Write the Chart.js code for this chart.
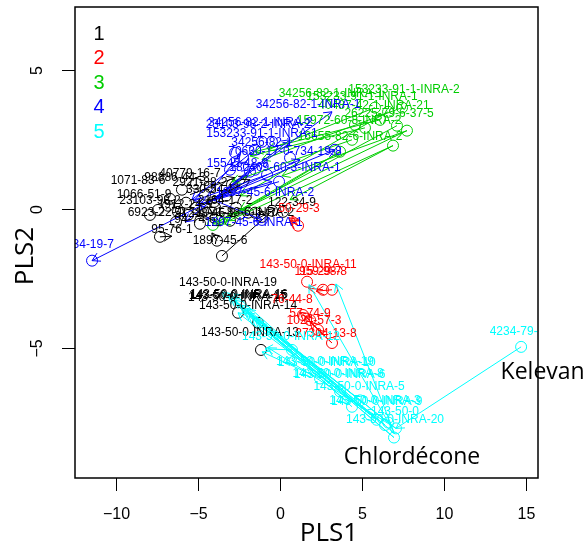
<!DOCTYPE html>
<html>
<head>
<meta charset="utf-8">
<script src="https://cdn.jsdelivr.net/npm/chart.js@4.4.0/dist/chart.umd.min.js"></script>
<style>
  html, body { margin: 0; padding: 0; background: #fff; }
</style>
</head>
<body>
<canvas id="plsChart" width="587" height="544"></canvas>
<script>
// Groups and colours (R palette: black, red, green3, blue, cyan)
const groupNames = ['1', '2', '3', '4', '5'];
const groupColors = ['#000000', '#FF0000', '#00CD00', '#0000FF', '#00FFFF'];

// Axis ticks
const xTicks = [-10, -5, 0, 5, 10, 15];
const yTicks = [-5, 0, 5];

// Circles (PLS1, PLS2, group index)
const ptX = [
  // group 1
  -7.32, -3.84, -3.54, -7.93, -7.44, -6.83, -6.22, -5.73, -5.12, -4.51, -4.02, -5.98, -5.12,
  -4.27, -3.29, -2.68, -1.95, -0.49, 0.18, -6.34, -4.88, -3.05, -1.10, -2.56, -1.34, -1.16,
  -5.61, -3.96, -3.35, -2.44, -6.71, -4.57, -2.93, -1.52,
  // group 2
  1.10, 1.65, 2.62, 3.17, 1.40, 1.83, 2.32, 3.17,
  // group 3
  7.74, 7.13, 6.89, 3.66, 4.39, 5.18, 6.10, 6.59, 7.44, 5.79, -4.09, 4.57,
  // group 4
  -11.46, -1.10, -0.79, -1.52, -0.06, -2.74, -2.26, -1.52, -1.10, -0.49, -1.83, 3.35, 0.61, -3.05,
  // group 5
  14.70, 6.95, 7.07, 6.40, 5.49, 4.39, 3.66, 0.73, 2.44, 4.88, 5.90, 6.60
];
const ptY = [
  -1.00, -1.14, -1.69, -0.21, -0.03, 0.12, -0.10, 0.23, 0.05, -0.13, 0.26, 0.70, 0.91,
  0.80, 0.48, 0.05, -0.13, -0.06, -0.10, -0.46, -0.53, -0.42, -0.28, -3.74, -4.10, -5.08,
  -0.21, 0.05, -0.10, -0.17, 0.37, 0.52, 0.88, -0.13,
  -0.60, -2.62, -2.91, -2.91, -3.82, -4.00, -4.36, -4.83,
  2.83, 3.01, 2.29, 2.07, 2.50, 2.93, 3.22, 3.51, 3.66, 3.66, -0.57, 3.04,
  -1.86, -0.39, 1.24, 1.42, 0.99, 2.03, 1.88, 2.14, 2.43, 2.43, 1.35, 2.14, 1.85, 1.42,
  -4.97, -8.24, -7.91, -7.79, -7.42, -7.13, -6.58, -5.08, -6.11, -6.90, -7.60, -7.70
];
const ptGrp = [
  0, 0, 0, 0, 0, 0, 0, 0, 0, 0, 0, 0, 0, 0, 0, 0, 0, 0, 0, 0, 0, 0, 0, 0, 0, 0,
  0, 0, 0, 0, 0, 0, 0, 0,
  1, 1, 1, 1, 1, 1, 1, 1,
  2, 2, 2, 2, 2, 2, 2, 2, 2, 2, 2, 2,
  3, 3, 3, 3, 3, 3, 3, 3, 3, 3, 3, 3, 3, 3,
  4, 4, 4, 4, 4, 4, 4, 4, 4, 4, 4, 4
];

// Arrows: from (arX0, arY0) to (arX1, arY1), head at the end
const arX0 = [
  // group 1
  -3.54, -3.84, -7.32, -4.88, -5.49, -4.51, -4.09, -4.50, -5.50,
  // group 2
  1.10, 1.10, 1.10, 3.17, 3.17, 3.17, 2.62, 3.17, 1.83,
  // group 3
  7.74, 7.13, 6.89, 3.66, 5.18, 6.10, 4.39, 7.44, 6.59, 5.79, 7.74, 6.89, 3.66,
  // group 4
  -4.09, -4.09, -4.09, -4.09, -4.09, -4.09, -4.09, -4.09, -4.09, -4.88, -0.79, -0.06, -1.52,
  // group 5
  14.70, 6.95, 7.07, 6.40, 5.49, 4.39, 3.66, 6.95, 6.40, 0.73, 2.44, 4.88, 6.95, 6.95, 7.07,
  6.60, 5.90, 7.00, 4.00, 5.00, 3.00
];
const arY0 = [
  -1.69, -1.14, -1.00, 0.15, 0.52, -0.13, 0.34, 0.20, 0.10,
  -0.60, -0.60, -0.60, -4.83, -4.83, -4.83, -2.91, -2.91, -4.00,
  2.83, 3.01, 2.29, 2.07, 2.93, 3.22, 2.50, 3.66, 3.51, 3.66, 2.83, 2.29, 2.07,
  0.34, 0.34, 0.34, 0.34, 0.34, 0.34, 0.34, 0.34, 0.34, 0.15, 1.24, 0.99, 2.14,
  -4.97, -8.24, -7.91, -7.79, -7.42, -7.13, -6.58, -8.24, -7.79, -5.08, -6.11, -6.90, -8.05, -8.05, -7.91,
  -7.70, -7.60, -8.10, -6.90, -7.20, -6.30
];
const arX1 = [
  -0.30, -4.15, -6.60, -2.44, -2.74, -0.91, -1.83, -2.00, -3.60,
  0.55, 0.61, 0.73, 1.83, 1.52, 2.32, 1.71, 2.20, 1.22,
  -4.09, -3.78, -3.54, -3.29, -1.83, -1.52, -2.93, -1.10, -2.44, -0.73, 0.12, 0.61, -2.44,
  -11.46, 3.17, 3.35, 1.22, -0.49, -1.10, -5.79, -1.83, 0.61, -2.44, -5.24, -5.06, -5.37,
  7.07, -3.54, -3.17, -2.74, -2.44, -2.07, -1.71, -1.34, -2.56, -0.91, -1.10, -2.20, 3.41, 1.77, -0.73,
  -3.00, -2.30, -2.00, -1.90, -2.80, -1.50
];
const arY1 = [
  0.03, -0.86, -0.98, 0.86, 1.13, -0.20, 1.06, 1.20, -0.60,
  -0.31, -0.42, -0.24, -4.08, -3.86, -4.36, -2.85, -2.96, -3.72,
  -0.53, -0.46, -0.53, -0.42, 1.92, 2.07, 0.99, 1.78, 0.48, 2.14, 1.20, 0.34, -0.03,
  -1.86, 3.51, 2.14, 1.78, 0.99, -0.39, -0.46, 1.42, 2.50, 1.97, 0.30, 0.15, 0.34,
  -7.91, -2.99, -3.14, -3.29, -3.46, -3.71, -3.92, -4.10, -3.74, -5.04, -5.15, -3.64, -2.70, -2.73, -5.00,
  -3.20, -3.55, -3.60, -3.85, -3.05, -4.00
];
const arGrp = [
  0, 0, 0, 0, 0, 0, 0, 0, 0,
  1, 1, 1, 1, 1, 1, 1, 1, 1,
  2, 2, 2, 2, 2, 2, 2, 2, 2, 2, 2, 2, 2,
  3, 3, 3, 3, 3, 3, 3, 3, 3, 3, 3, 3, 3,
  4, 4, 4, 4, 4, 4, 4, 4, 4, 4, 4, 4, 4, 4, 4,
  4, 4, 4, 4, 4, 4
];

// Compound labels (centre positions in PLS units)
const labText = [
  // group 1
  '40779-16-7', '1071-83-6', '98886-44-3', '1066-51-9', '23103-98-2', '6923-22-4', '95-76-1',
  '1897-45-6', '2921-88-2', '330-54-1', '1912-24-9', '51218-45-2', '2164-17-2', '94-74-6',
  '1071-83-6-INRA-2', '122-34-9', '143-50-0-INRA-19', '143-50-0-INRA-15', '143-50-0-INRA-17',
  '143-50-0-INRA-16', '143-50-0-INRA-14', '143-50-0-INRA-13',
  // group 2
  '50-29-3', '143-50-0-INRA-11', '115-29-7', '959-98-8', '76-44-8', '57-74-9', '1024-57-3', '27304-13-8',
  // group 3
  '153233-91-1-INRA-2', '34256-82-1-INRA-1', '153233-91-1-INRA-1', '40487-42-1-INRA-21',
  '26225-79-6-37-5', '15972-60-8-INRA-2', '16655-82-6-INRA-2',
  // group 4
  '34256-82-1-INRA-1', '23103-98-2-INRA-2', '34256-82-1-INRA-2', '153233-91-1-INRA-1', '34256-82-1',
  '70630-17-0-734-19-8', '15545-48-9', '180409-60-3-INRA-1', '1897-45-6-INRA-2', '31334-19-7',
  '1897-45-6-INRA-1',
  // group 5
  '4234-79-1', '143-50-0-INRA-19', '143-50-0-INRA-10', '143-50-0-INRA-8', '143-50-0-INRA-6',
  '143-50-0-INRA-5', '143-50-0-INRA-3', '143-50-0-INRA-9', '143-50-0', '143-50-0-INRA-20',
  '143-50-0-INRA-12'
];
const labX = [
  -5.49, -8.66, -6.40, -8.29, -7.93, -7.62, -6.59, -3.66, -4.88, -4.27, -5.79, -4.57, -3.35, -5.18,
  -2.13, 0.73, -3.17, -2.56, -2.62, -2.50, -1.95, -1.83,
  1.16, 1.71, 2.32, 2.62, 0.73, 1.83, 2.07, 2.80,
  7.56, 3.11, 5.00, 5.73, 6.65, 4.21, 4.27,
  1.71, -1.34, -1.20, -1.10, -1.10, 0.30, -2.60, 0.30, -0.91, -12.00, -1.60,
  14.45, 2.74, 2.85, 3.54, 3.64, 4.82, 5.79, 5.90, 7.01, 7.01, 0.67
];
const labY = [
  1.27, 1.02, 1.13, 0.52, 0.30, -0.13, -0.75, -1.15, 0.95, 0.70, 0.15, -0.17, 0.30, -0.39,
  -0.13, 0.23, -2.66, -3.13, -3.19, -3.08, -3.49, -4.47,
  0.01, -2.01, -2.27, -2.27, -3.27, -3.78, -4.04, -4.50,
  4.30, 4.16, 4.05, 3.73, 3.44, 3.19, 2.61,
  3.76, 3.05, 3.10, 2.73, 2.38, 2.07, 1.65, 1.48, 0.59, -1.29, -0.50,
  -4.41, -5.51, -5.55, -5.93, -5.97, -6.40, -6.92, -6.96, -7.29, -7.61, -4.60
];
const labGrp = [
  0, 0, 0, 0, 0, 0, 0, 0, 0, 0, 0, 0, 0, 0, 0, 0, 0, 0, 0, 0, 0, 0,
  1, 1, 1, 1, 1, 1, 1, 1,
  2, 2, 2, 2, 2, 2, 2,
  3, 3, 3, 3, 3, 3, 3, 3, 3, 3, 3,
  4, 4, 4, 4, 4, 4, 4, 4, 4, 4, 4
];

// Hand-written annotations
const noteText = ['Chlordécone', 'Kelevan'];
const noteX = [8.05, 13.45];
const noteY = [-8.95, -5.90];

const minus = s => String(s).replace('-', '\u2212');

// Build one scatter dataset per group
const datasets = groupNames.map((name, g) => ({
  label: name,
  data: ptX.map((x, i) => ({ x: x, y: ptY[i], g: ptGrp[i] })).filter(p => p.g === g),
  pointStyle: 'circle',
  pointRadius: 5.5,
  pointHoverRadius: 5.5,
  pointBorderWidth: 1,
  borderColor: groupColors[g],
  backgroundColor: 'rgba(0,0,0,0)',
  showLine: false
}));

// Arrows, labels, frame and axis text drawn the R way
const rPlotPlugin = {
  id: 'rPlot',
  afterDatasetsDraw(chart) {
    const ctx = chart.ctx;
    const area = chart.chartArea;
    const xs = chart.scales.x;
    const ys = chart.scales.y;
    ctx.save();
    ctx.beginPath();
    ctx.rect(area.left, area.top, area.right - area.left, area.bottom - area.top);
    ctx.clip();

    // arrows
    ctx.lineWidth = 1;
    const headLen = 9;
    const headAng = Math.PI / 6;
    arX0.forEach((x0, i) => {
      const px0 = xs.getPixelForValue(x0);
      const py0 = ys.getPixelForValue(arY0[i]);
      const px1 = xs.getPixelForValue(arX1[i]);
      const py1 = ys.getPixelForValue(arY1[i]);
      const ang = Math.atan2(py1 - py0, px1 - px0);
      ctx.strokeStyle = groupColors[arGrp[i]];
      ctx.beginPath();
      ctx.moveTo(px0, py0);
      ctx.lineTo(px1, py1);
      ctx.moveTo(px1 - headLen * Math.cos(ang - headAng), py1 - headLen * Math.sin(ang - headAng));
      ctx.lineTo(px1, py1);
      ctx.lineTo(px1 - headLen * Math.cos(ang + headAng), py1 - headLen * Math.sin(ang + headAng));
      ctx.stroke();
    });

    // labels
    ctx.font = '12px "Liberation Sans", Arial, sans-serif';
    ctx.textAlign = 'center';
    ctx.textBaseline = 'middle';
    labText.forEach((t, i) => {
      ctx.fillStyle = groupColors[labGrp[i]];
      ctx.fillText(t, xs.getPixelForValue(labX[i]), ys.getPixelForValue(labY[i]));
    });
    ctx.restore();
  },
  afterDraw(chart) {
    const ctx = chart.ctx;
    const area = chart.chartArea;
    const xs = chart.scales.x;
    const ys = chart.scales.y;
    ctx.save();

    // box
    ctx.strokeStyle = '#000';
    ctx.lineWidth = 1.5;
    ctx.strokeRect(area.left, area.top, area.right - area.left, area.bottom - area.top);

    // ticks and tick labels
    ctx.lineWidth = 1;
    ctx.fillStyle = '#000';
    ctx.font = '16px "Liberation Sans", Arial, sans-serif';
    ctx.textAlign = 'center';
    ctx.textBaseline = 'middle';
    xTicks.forEach(v => {
      const px = Math.round(xs.getPixelForValue(v)) + 0.5;
      ctx.beginPath();
      ctx.moveTo(px, area.bottom);
      ctx.lineTo(px, area.bottom + 13);
      ctx.stroke();
      ctx.fillText(minus(v), px, area.bottom + 37);
    });
    yTicks.forEach(v => {
      const py = Math.round(ys.getPixelForValue(v)) + 0.5;
      ctx.beginPath();
      ctx.moveTo(area.left, py);
      ctx.lineTo(area.left - 13, py);
      ctx.stroke();
      ctx.save();
      ctx.translate(area.left - 37, py);
      ctx.rotate(-Math.PI / 2);
      ctx.fillText(minus(v), 0, 0);
      ctx.restore();
    });

    // axis titles
    ctx.font = '26px "Open Sans", sans-serif';
    ctx.textBaseline = 'alphabetic';
    ctx.fillText('PLS1', 329, 541);
    ctx.save();
    ctx.translate(33, 256);
    ctx.rotate(-Math.PI / 2);
    ctx.fillText('PLS2', 0, 0);
    ctx.restore();

    // group legend
    ctx.font = '20px "Liberation Sans", Arial, sans-serif';
    ctx.textBaseline = 'middle';
    groupNames.forEach((n, g) => {
      ctx.fillStyle = groupColors[g];
      ctx.fillText(n, area.left + 24, area.top + 27 + g * 24.6);
    });

    // annotations
    ctx.fillStyle = '#000';
    ctx.font = '23px "Open Sans", sans-serif';
    ctx.textAlign = 'left';
    noteText.forEach((t, i) => {
      const w = ctx.measureText(t).width;
      const px = xs.getPixelForValue(noteX[i]);
      ctx.fillText(t, i === 0 ? px - w / 2 : px, ys.getPixelForValue(noteY[i]));
    });
    ctx.restore();
  }
};

new Chart(document.getElementById('plsChart'), {
  type: 'scatter',
  data: { datasets: datasets },
  options: {
    responsive: false,
    animation: false,
    layout: { padding: { top: 7, right: 49, bottom: 0, left: 0 } },
    plugins: {
      legend: { display: false },
      tooltip: { enabled: false }
    },
    scales: {
      x: {
        type: 'linear',
        min: -12.5,
        max: 15.73,
        grid: { display: false },
        border: { display: false },
        ticks: { display: false },
        afterFit: s => { s.height = 66; }
      },
      y: {
        type: 'linear',
        min: -9.7,
        max: 7.29,
        grid: { display: false },
        border: { display: false },
        ticks: { display: false },
        afterFit: s => { s.width = 75; }
      }
    }
  },
  plugins: [rPlotPlugin]
});
</script>
</body>
</html>
